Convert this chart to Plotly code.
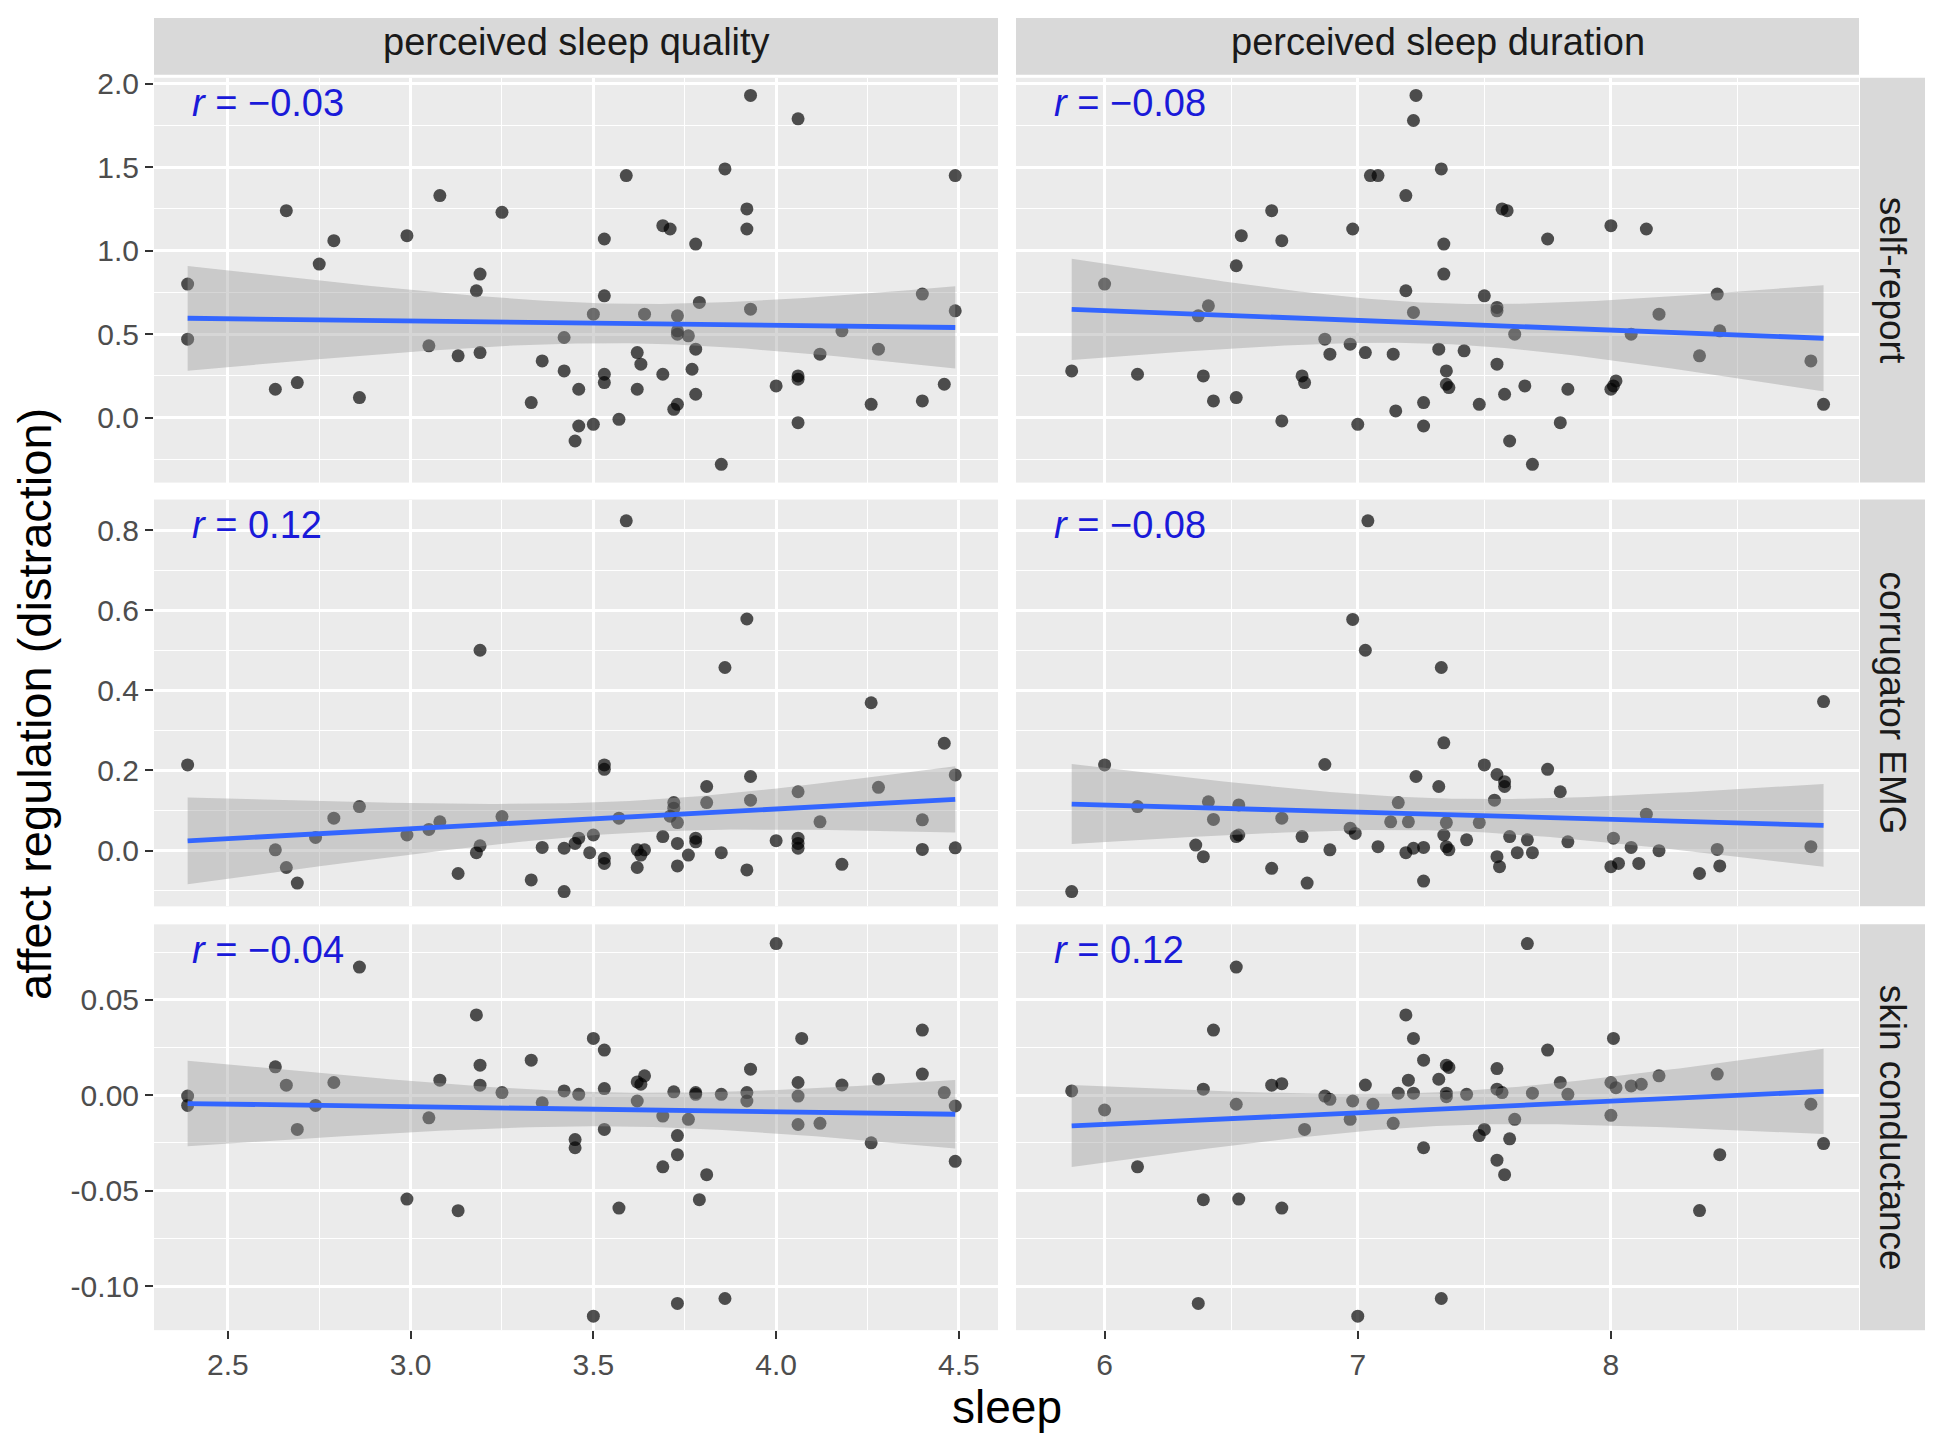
import numpy as np
import plotly.graph_objects as go

# ---------------- data ----------------
col_titles = ["perceived sleep quality", "perceived sleep duration"]
row_titles = ["self-report", "corrugator EMG", "skin conductance"]
r_texts = [["−0.03", "−0.08"], ["0.12", "−0.08"], ["−0.04", "0.12"]]

# (sleep, affect regulation) pairs
quality_self = [(3.93,1.93),(4.06,1.79),(3.86,1.49),(3.59,1.45),(4.49,1.45),(3.08,1.33),(2.66,1.24),(3.25,1.23),
                (3.92,1.25),(3.69,1.15),(3.71,1.13),(3.92,1.13),(2.99,1.09),(2.79,1.06),(3.53,1.07),(3.78,1.04),
                (2.75,0.92),(3.19,0.86),(3.18,0.76),(2.39,0.80),(3.53,0.73),(4.40,0.74),(3.79,0.69),(3.93,0.65),
                (3.50,0.62),(3.64,0.62),(3.73,0.61),(4.49,0.64),(4.18,0.52),(2.39,0.47),(3.42,0.48),(3.73,0.52),
                (3.73,0.50),(3.76,0.49),(3.05,0.43),(3.13,0.37),(3.19,0.39),(3.78,0.41),(4.12,0.38),(4.28,0.41),
                (3.62,0.39),(3.63,0.32),(3.36,0.34),(3.42,0.28),(3.77,0.29),(3.69,0.26),(3.53,0.26),(3.53,0.21),
                (3.46,0.17),(3.62,0.17),(4.06,0.25),(4.06,0.23),(4.00,0.19),(4.46,0.20),(2.63,0.17),(2.69,0.21),
                (2.86,0.12),(3.33,0.09),(3.78,0.14),(4.26,0.08),(4.40,0.10),(3.72,0.05),(3.73,0.08),(3.46,-0.05),
                (3.50,-0.04),(3.57,-0.01),(3.45,-0.14),(4.06,-0.03),(3.85,-0.28)]

duration_self = [(7.23,1.93),(7.22,1.78),(7.33,1.49),(7.05,1.45),(7.08,1.45),(7.19,1.33),(6.66,1.24),(7.57,1.25),
                 (7.59,1.24),(6.98,1.13),(8.00,1.15),(8.14,1.13),(6.54,1.09),(6.70,1.06),(7.34,1.04),(7.75,1.07),
                 (6.52,0.91),(7.34,0.86),(6.00,0.80),(7.19,0.76),(7.50,0.73),(8.42,0.74),(6.41,0.67),(7.55,0.66),
                 (7.55,0.64),(7.22,0.63),(6.37,0.61),(8.19,0.62),(7.62,0.50),(8.08,0.50),(8.43,0.52),(6.87,0.47),
                 (6.97,0.44),(6.89,0.38),(7.03,0.39),(7.14,0.38),(7.32,0.41),(7.42,0.40),(8.35,0.37),(8.79,0.34),
                 (5.87,0.28),(6.13,0.26),(6.39,0.25),(7.55,0.32),(7.35,0.28),(6.78,0.25),(6.79,0.21),(7.35,0.20),
                 (7.36,0.18),(8.02,0.22),(8.01,0.19),(8.00,0.17),(7.66,0.19),(7.83,0.17),(7.58,0.14),(6.43,0.10),
                 (6.52,0.12),(7.26,0.09),(7.48,0.08),(7.15,0.04),(6.70,-0.02),(7.00,-0.04),(7.26,-0.05),(7.80,-0.03),
                 (7.60,-0.14),(7.69,-0.28),(8.84,0.08)]

quality_emg = [(3.59,0.823),(3.92,0.578),(3.19,0.500),(3.86,0.457),(4.26,0.369),(4.46,0.268),(2.39,0.214),(3.53,0.214),
               (3.53,0.203),(4.49,0.189),(3.93,0.185),(3.81,0.160),(4.06,0.147),(4.28,0.158),(2.86,0.110),(3.72,0.120),
               (3.72,0.106),(3.81,0.120),(3.93,0.126),(2.79,0.081),(3.25,0.085),(3.71,0.086),(3.57,0.081),(3.08,0.072),
               (2.74,0.033),(2.99,0.039),(3.05,0.053),(4.40,0.077),(4.12,0.072),(3.73,0.070),(3.73,0.018),(3.69,0.035),
               (3.78,0.031),(3.78,0.022),(4.00,0.025),(4.06,0.031),(4.06,0.018),(4.06,0.006),(3.46,0.031),(3.50,0.039),
               (3.45,0.018),(4.49,0.007),(4.40,0.003),(2.63,0.002),(3.19,0.012),(3.18,-0.005),(3.36,0.008),(3.42,0.006),
               (3.49,-0.005),(3.53,-0.019),(3.53,-0.032),(3.62,0.002),(3.63,-0.011),(3.64,0.002),(3.62,-0.042),(3.73,-0.038),
               (3.76,-0.011),(3.85,-0.005),(3.92,-0.048),(4.18,-0.034),(2.66,-0.042),(2.69,-0.081),(3.13,-0.057),(3.33,-0.073),
               (3.42,-0.102)]

duration_emg = [(7.04,0.823),(6.98,0.577),(7.03,0.500),(7.33,0.457),(8.84,0.372),(7.34,0.269),(6.00,0.214),(6.87,0.215),
                (7.50,0.214),(7.75,0.203),(7.55,0.190),(7.23,0.185),(7.58,0.172),(7.58,0.160),(7.32,0.160),(7.80,0.147),
                (7.54,0.126),(7.16,0.120),(6.13,0.110),(6.41,0.122),(6.53,0.114),(8.14,0.091),(6.70,0.081),(6.43,0.078),
                (7.13,0.072),(7.20,0.072),(7.35,0.070),(7.48,0.070),(6.97,0.056),(6.99,0.043),(6.52,0.035),(6.53,0.039),
                (6.78,0.035),(7.34,0.039),(7.60,0.035),(7.43,0.027),(7.67,0.027),(7.83,0.022),(8.01,0.031),(6.36,0.014),
                (6.39,-0.015),(6.89,0.002),(7.08,0.010),(7.19,-0.005),(7.22,0.006),(7.26,0.008),(7.35,0.010),(7.36,0.002),
                (7.55,-0.015),(7.63,-0.005),(7.69,-0.005),(8.08,0.008),(8.19,0.000),(8.42,0.003),(8.79,0.010),(7.56,-0.040),
                (8.00,-0.040),(8.03,-0.032),(8.11,-0.032),(8.43,-0.038),(8.35,-0.057),(6.66,-0.044),(6.80,-0.081),(7.26,-0.076),
                (5.87,-0.102)]

quality_scl = [(4.00,0.0795),(2.86,0.0672),(3.18,0.0421),(4.40,0.0342),(4.07,0.0298),(3.50,0.0298),(3.53,0.0237),(3.33,0.0184),
               (3.19,0.0158),(2.63,0.0149),(3.93,0.0137),(4.40,0.0111),(3.64,0.0102),(4.28,0.0084),(2.66,0.0053),(2.79,0.0067),
               (3.08,0.0079),(3.19,0.0053),(4.06,0.0067),(4.18,0.0054),(3.62,0.0070),(3.63,0.0058),(3.53,0.0035),(3.25,0.0014),
               (3.42,0.0023),(3.46,0.0005),(3.72,0.0018),(3.78,0.0014),(3.78,0.0005),(3.85,0.0005),(3.92,0.0014),(4.46,0.0014),
               (2.39,-0.0004),(2.39,-0.0053),(2.74,-0.0053),(3.36,-0.0039),(3.62,-0.0030),(3.92,-0.0030),(4.06,-0.0004),(4.49,-0.0056),
               (3.69,-0.0109),(3.76,-0.0126),(3.05,-0.0118),(4.06,-0.0153),(4.12,-0.0147),(2.69,-0.0179),(3.53,-0.0179),(3.73,-0.0211),
               (3.45,-0.0232),(3.45,-0.0275),(4.26,-0.0249),(3.73,-0.0311),(4.49,-0.0346),(3.69,-0.0375),(3.81,-0.0416),(3.79,-0.0547),
               (2.99,-0.0544),(3.57,-0.0591),(3.13,-0.0605),(3.73,-0.1091),(3.86,-0.1065),(3.50,-0.1158)]

duration_scl = [(7.67,0.0795),(6.52,0.0672),(7.19,0.0421),(6.43,0.0342),(7.22,0.0298),(8.01,0.0298),(7.75,0.0237),(7.26,0.0184),
                (7.35,0.0158),(7.36,0.0146),(7.55,0.0140),(8.19,0.0102),(8.42,0.0111),(7.20,0.0079),(7.32,0.0084),(7.80,0.0067),
                (8.00,0.0067),(8.12,0.0058),(8.08,0.0049),(7.03,0.0054),(6.70,0.0061),(6.66,0.0053),(5.87,0.0023),(6.39,0.0032),
                (7.55,0.0032),(7.57,0.0014),(7.16,0.0011),(7.22,0.0011),(7.35,0.0011),(7.43,0.0005),(7.69,0.0011),(7.83,0.0005),
                (7.35,-0.0007),(6.87,-0.0004),(6.89,-0.0021),(6.98,-0.0030),(7.06,-0.0047),(8.02,0.0040),(6.52,-0.0047),(8.79,-0.0047),
                (6.00,-0.0077),(8.00,-0.0105),(6.97,-0.0126),(7.62,-0.0126),(7.14,-0.0147),(6.79,-0.0179),(7.50,-0.0179),(7.48,-0.0211),
                (7.60,-0.0228),(7.26,-0.0275),(8.84,-0.0253),(8.43,-0.0311),(7.55,-0.0340),(6.13,-0.0375),(7.58,-0.0416),(6.39,-0.0547),
                (6.53,-0.0544),(6.70,-0.0591),(8.35,-0.0604),(6.37,-0.1091),(7.33,-0.1065),(7.00,-0.1158)]

panels = [[quality_self, duration_self],
          [quality_emg, duration_emg],
          [quality_scl, duration_scl]]

x_ranges = [[2.298, 4.607], [5.65, 8.98]]
x_tickvals = [[2.5, 3.0, 3.5, 4.0, 4.5], [6, 7, 8]]
x_ticktext = [["2.5", "3.0", "3.5", "4.0", "4.5"], ["6", "7", "8"]]
x_minor = [[2.75, 3.25, 3.75, 4.25], [5.5, 6.5, 7.5, 8.5]]

y_ranges = [[-0.389, 2.036], [-0.139, 0.876], [-0.1231, 0.0896]]
y_tickvals = [[0, 0.5, 1.0, 1.5, 2.0], [0, 0.2, 0.4, 0.6, 0.8], [-0.10, -0.05, 0.0, 0.05]]
y_ticktext = [["0.0", "0.5", "1.0", "1.5", "2.0"], ["0.0", "0.2", "0.4", "0.6", "0.8"],
              ["-0.10", "-0.05", "0.00", "0.05"]]
y_minor = [[-0.25, 0.25, 0.75, 1.25, 1.75], [-0.1, 0.1, 0.3, 0.5, 0.7], [-0.075, -0.025, 0.025, 0.075]]

# ---------------- geometry / style ----------------
# target positions are given in screen pixels of the photographed page;
# the figure lands at x + 8 and at about 0.9935 * y + 17.2 on the photo
OFF_X = 8
OFF_Y, SCALE_Y = 17.2, 0.9935
W, H = 1935 - 2 * OFF_X, 1430
COL_PX = [(154, 998), (1016, 1859)]
ROW_PX = [(77, 482), (499, 906), (924, 1330)]
TOP_STRIP_PX = (9, 74)
RIGHT_STRIP_PX = (1860, 1925)
FONT = "Liberation Sans, Arial, Helvetica, sans-serif"
T975 = 1.998  # t quantile for 95% CI, df ~ 63


def px_x(v):
    return (v - OFF_X) / W


def px_y(v):
    return 1 - ((v - OFF_Y) / SCALE_Y) / H


def lm_band(pts, n=100):
    x = np.array([p[0] for p in pts], dtype=float)
    y = np.array([p[1] for p in pts], dtype=float)
    b, a = np.polyfit(x, y, 1)
    xs = np.linspace(x.min(), x.max(), n)
    yhat = a + b * xs
    resid = y - (a + b * x)
    s = np.sqrt(np.sum(resid ** 2) / (len(x) - 2))
    sxx = np.sum((x - x.mean()) ** 2)
    se = s * np.sqrt(1 / len(x) + (xs - x.mean()) ** 2 / sxx)
    return xs, yhat, yhat - T975 * se, yhat + T975 * se


fig = go.Figure()
layout = {}
annotations = []
shapes = []

for r in range(3):
    for c in range(2):
        k = r * 2 + c + 1
        xa = "x" if k == 1 else f"x{k}"
        ya = "y" if k == 1 else f"y{k}"
        pts = panels[r][c]
        xs_pts = [p[0] for p in pts]
        ys_pts = [p[1] for p in pts]

        fig.add_trace(go.Scatter(
            x=xs_pts, y=ys_pts, mode="markers", xaxis=xa, yaxis=ya,
            marker=dict(color="rgba(0,0,0,0.68)", size=13, line=dict(width=0)),
            showlegend=False, hoverinfo="x+y"))

        xs, yhat, lo, hi = lm_band(pts)
        fig.add_trace(go.Scatter(
            x=list(xs) + list(xs[::-1]), y=list(hi) + list(lo[::-1]),
            mode="lines", fill="toself", fillcolor="rgba(153,153,153,0.4)",
            line=dict(width=0), xaxis=xa, yaxis=ya, showlegend=False, hoverinfo="skip"))
        fig.add_trace(go.Scatter(
            x=xs, y=yhat, mode="lines", line=dict(color="#3366FF", width=4.8),
            xaxis=xa, yaxis=ya, showlegend=False, hoverinfo="skip"))

        x0, x1 = COL_PX[c]
        y0, y1 = ROW_PX[r]
        bottom = (r == 2)
        left = (c == 0)
        layout["xaxis" if k == 1 else f"xaxis{k}"] = dict(
            domain=[px_x(x0), px_x(x1)], anchor=ya, range=x_ranges[c],
            tickmode="array", tickvals=x_tickvals[c], ticktext=x_ticktext[c],
            showticklabels=bottom, ticks="outside" if bottom else "",
            ticklen=8, tickwidth=2, tickcolor="#333333",
            tickfont=dict(family=FONT, size=30, color="#4D4D4D"),
            showgrid=True, gridcolor="white", gridwidth=2.6,
            minor=dict(tickvals=x_minor[c], showgrid=True, gridcolor="white", gridwidth=1.3, ticks=""),
            zeroline=False, showline=False, fixedrange=True)
        layout["yaxis" if k == 1 else f"yaxis{k}"] = dict(
            domain=[px_y(y1), px_y(y0)], anchor=xa, range=y_ranges[r],
            tickmode="array", tickvals=y_tickvals[r], ticktext=y_ticktext[r],
            showticklabels=left, ticks="outside" if left else "",
            ticklen=8, tickwidth=2, tickcolor="#333333",
            tickfont=dict(family=FONT, size=30, color="#4D4D4D"),
            showgrid=True, gridcolor="white", gridwidth=2.6,
            minor=dict(tickvals=y_minor[r], showgrid=True, gridcolor="white", gridwidth=1.3, ticks=""),
            zeroline=False, showline=False, fixedrange=True)

        annotations.append(dict(
            xref=f"{xa} domain", yref=f"{ya} domain", x=0.043, y=0.937,
            xanchor="left", yanchor="middle", showarrow=False,
            text=f"<i>r</i> = {r_texts[r][c]}",
            font=dict(family=FONT, size=38, color="#1A1AD9")))

# strips
for c in range(2):
    x0, x1 = COL_PX[c]
    shapes.append(dict(type="rect", xref="paper", yref="paper",
                       x0=px_x(x0), x1=px_x(x1), y0=px_y(TOP_STRIP_PX[1]), y1=min(1.0, px_y(TOP_STRIP_PX[0])),
                       fillcolor="#D9D9D9", line=dict(width=0), layer="below"))
    annotations.append(dict(xref="paper", yref="paper", x=px_x((x0 + x1) / 2),
                            y=px_y(sum(TOP_STRIP_PX) / 2), xanchor="center", yanchor="middle",
                            showarrow=False, text=col_titles[c],
                            font=dict(family=FONT, size=38, color="#1A1A1A")))
for r in range(3):
    y0, y1 = ROW_PX[r]
    shapes.append(dict(type="rect", xref="paper", yref="paper",
                       x0=px_x(RIGHT_STRIP_PX[0]), x1=px_x(RIGHT_STRIP_PX[1]), y0=px_y(y1), y1=px_y(y0),
                       fillcolor="#D9D9D9", line=dict(width=0), layer="below"))
    annotations.append(dict(xref="paper", yref="paper", x=px_x(sum(RIGHT_STRIP_PX) / 2),
                            y=px_y((y0 + y1) / 2), xanchor="center", yanchor="middle",
                            showarrow=False, text=row_titles[r], textangle=90,
                            font=dict(family=FONT, size=37, color="#1A1A1A")))

# axis titles
annotations.append(dict(xref="paper", yref="paper", x=px_x((COL_PX[0][0] + COL_PX[1][1]) / 2),
                        y=px_y(1407), xanchor="center", yanchor="middle", showarrow=False,
                        text="sleep", font=dict(family=FONT, size=46, color="black")))
annotations.append(dict(xref="paper", yref="paper", x=px_x(35),
                        y=px_y((ROW_PX[0][0] + ROW_PX[2][1]) / 2), xanchor="center", yanchor="middle",
                        showarrow=False, textangle=-90,
                        text="affect regulation (distraction)", font=dict(family=FONT, size=47, color="black")))

fig.update_layout(
    width=W, height=H, margin=dict(l=0, r=0, t=0, b=0),
    paper_bgcolor="white", plot_bgcolor="#EBEBEB",
    annotations=annotations, shapes=shapes, showlegend=False,
    **layout)

fig.write_html("out.html")
